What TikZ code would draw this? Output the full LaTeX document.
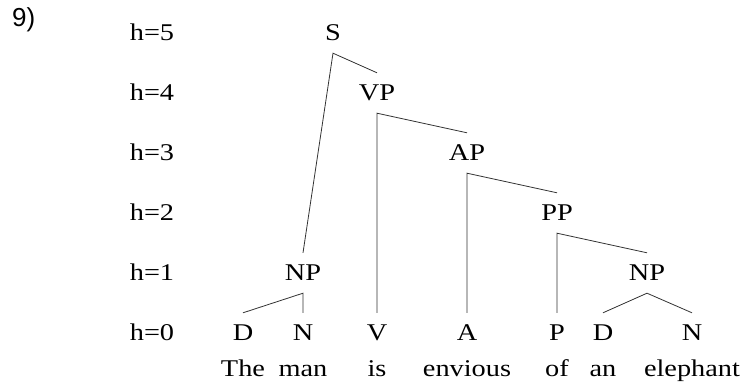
\documentclass[tikz,border=0pt]{standalone}
\usepackage{fontspec}
\setmainfont[FakeStretch=1.18]{Liberation Serif}
\newfontfamily\numfont{Liberation Sans}
\begin{document}
\begin{tikzpicture}[x=1pt,y=-1pt,
  lab/.style={font={\fontsize{24pt}{28pt}\selectfont}, inner sep=0pt, text height=16pt, text depth=0pt, anchor=base},
  word/.style={font={\fontsize{24pt}{28pt}\selectfont}, inner sep=0pt, anchor=base},
  branch/.style={line width=0.8pt, draw=black!80}]
\useasboundingbox (0,0) rectangle (745,387);
\node[anchor=base west, inner sep=0pt, font={\numfont\fontsize{26pt}{30pt}\selectfont}] (num) at (12,27) {9)};
% height labels
\node[word] (h5) at (152,41) {h=5};
\node[word] (h4) at (152,101) {h=4};
\node[word] (h3) at (152,161) {h=3};
\node[word] (h2) at (152,221) {h=2};
\node[word] (h1) at (152,281) {h=1};
\node[word] (h0) at (152,341) {h=0};
% tree nodes
\node[lab] (S) at (333,41) {S};
\node[lab] (VP) at (377,101) {VP};
\node[lab] (AP) at (467,161) {AP};
\node[lab] (PP) at (557,221) {PP};
\node[lab] (NPa) at (303,281) {NP};
\node[lab] (NPb) at (647,281) {NP};
\node[lab] (Da) at (243,341) {D};
\node[lab] (Na) at (303,341) {N};
\node[lab] (V) at (377,341) {V};
\node[lab] (A) at (467,341) {A};
\node[lab] (P) at (557,341) {P};
\node[lab] (Db) at (603,341) {D};
\node[lab] (Nb) at (692,341) {N};
% words
\node[word] (w1) at (243,377) {The};
\node[word] (w2) at (303,377) {man};
\node[word] (w3) at (377,377) {is};
\node[word] (w4) at (467,377) {envious};
\node[word] (w5) at (557,377) {of};
\node[word] (w6) at (603,377) {an};
\node[word] (w7) at (692,377) {elephant};
% branches
\draw[branch] ([yshift=12pt]NPa.north) -- ([yshift=-12pt]S.south) -- ([yshift=12pt]VP.north);
\draw[branch] ([yshift=12pt]V.north) -- ([yshift=-12pt]VP.south) -- ([yshift=12pt]AP.north);
\draw[branch] ([yshift=12pt]A.north) -- ([yshift=-12pt]AP.south) -- ([yshift=12pt]PP.north);
\draw[branch] ([yshift=12pt]P.north) -- ([yshift=-12pt]PP.south) -- ([yshift=12pt]NPb.north);
\draw[branch] ([yshift=12pt]Da.north) -- ([yshift=-12pt]NPa.south) -- ([yshift=12pt]Na.north);
\draw[branch] ([yshift=12pt]Db.north) -- ([yshift=-12pt]NPb.south) -- ([yshift=12pt]Nb.north);
\end{tikzpicture}
\end{document}
